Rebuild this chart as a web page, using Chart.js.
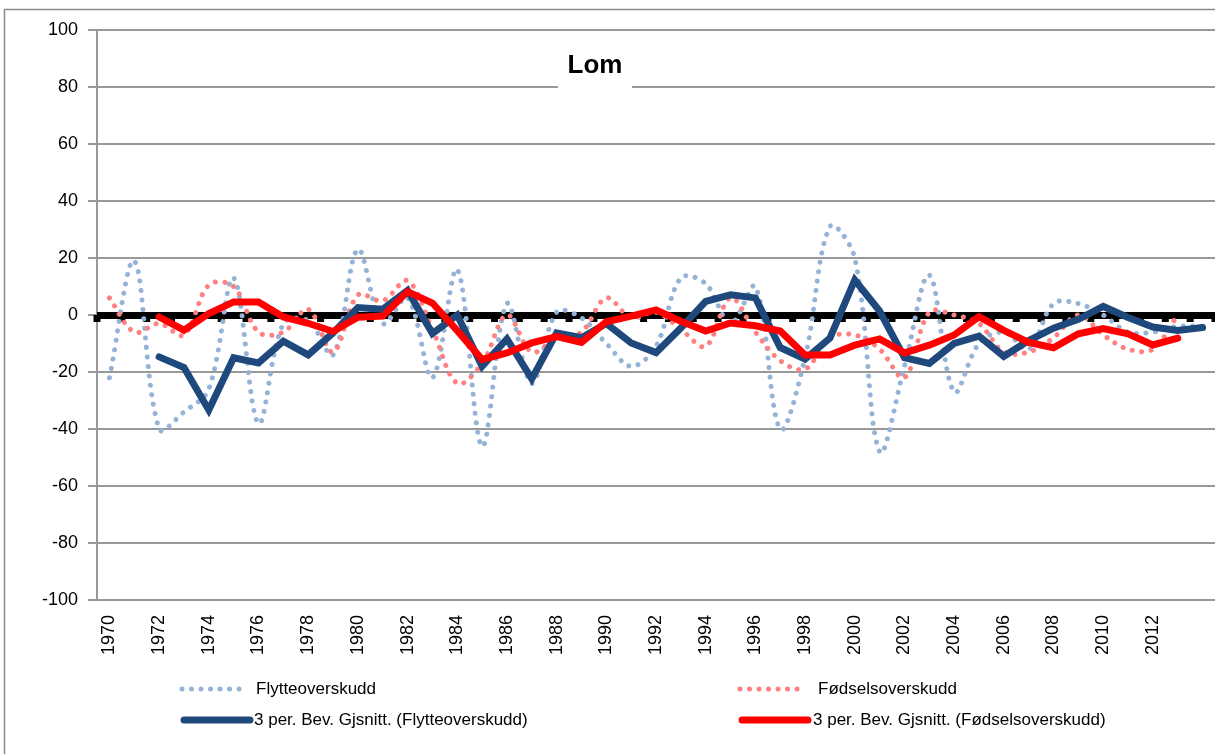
<!DOCTYPE html>
<html>
<head>
<meta charset="utf-8">
<title>Lom</title>
<script src="https://cdn.jsdelivr.net/npm/chart.js@4.4.1/dist/chart.umd.min.js"></script>
<style>
    html, body { margin: 0; padding: 0; background: #fff; }
    #wrap { width: 1215px; height: 754px; position: relative; }
</style>
</head>
<body>
<div id="wrap"><canvas id="lomChart" width="1215" height="754"></canvas></div>
<script>
// Categories (years) and the labels shown on the axis
const years = [
    '1970', '1971', '1972', '1973', '1974', '1975', '1976', '1977', '1978', '1979',
    '1980', '1981', '1982', '1983', '1984', '1985', '1986', '1987', '1988', '1989',
    '1990', '1991', '1992', '1993', '1994', '1995', '1996', '1997', '1998', '1999',
    '2000', '2001', '2002', '2003', '2004', '2005', '2006', '2007', '2008', '2009',
    '2010', '2011', '2012', '2013', '2014'
];
const tickYears = [
    '1970', '1972', '1974', '1976', '1978', '1980', '1982', '1984', '1986', '1988', '1990',
    '1992', '1994', '1996', '1998', '2000', '2002', '2004', '2006', '2008', '2010', '2012'
];
const yTicks = [-100, -80, -60, -40, -20, 0, 20, 40, 60, 80, 100];

// Yearly values
const flytte = [
    -22, 19, -40, -34, -26, 13, -38, -3, -2, -14,
    23, -3, 6, -22, 16, -46, 4, -24, 1, -1,
    -10, -18, -11, 13, 11, -3, 10, -40, -15, 31,
    20, -48, -18, 14, -27, -10, -6, -12, 4, 4,
    0, -6, -6, -4, -4
];
const fodsel = [
    6, -6, -3, -7, 10.5, 10, -6, -6, 2, -13,
    7, 5, 12, -5, -24, -17, 0, -13, -8, -6,
    6, -1, 1, -5, -11, 6, -6, -16, -19, -8,
    -7, -12, -22, 1, 0, -3, -13, -13, -8, 0,
    -7, -12, -12, 0, null
];

// 3 period moving averages
const flytteSnitt = [
    null, null, -14.7, -18.4, -33.3, -15, -16.8, -9.2, -14, -6.3,
    2.6, 2, 8.6, -6.5, 0, -18, -8.4, -22.4, -6.3, -8,
    -3, -9.8, -13.2, -4.6, 4.8, 7.1, 6, -11.4, -15.5, -8.1,
    12.3, 1.4, -15, -17, -10, -7.4, -14.5, -9, -4.6, -1.5,
    3, -0.9, -4.2, -5.4, -4.4
];
const fodselSnitt = [
    null, null, -0.7, -5.3, 0.5, 4.6, 4.6, -0.7, -2.9, -5.8,
    -0.8, -0.4, 8.2, 4.2, -5.5, -15.6, -13.3, -9.8, -7.6, -9.6,
    -2.4, -0.4, 1.8, -2.2, -5.6, -2.8, -3.8, -5.6, -14, -14,
    -10.6, -8.4, -13.3, -10.6, -7, -0.6, -5.4, -9.6, -11.5, -6.6,
    -4.8, -6.6, -10.5, -8.1, null
];

const FONT = "'Liberation Sans', Arial, sans-serif";

// Thick zero axis with tick marks, plus the "Lom" title box
const zeroAxisPlugin = {
    id: 'zeroAxis',
    beforeDatasetsDraw(chart) {
        const { ctx, chartArea, scales } = chart;
        const y0 = scales.y.getPixelForValue(0);
        const xs = scales.x;
        const half = (xs.getPixelForValue(1) - xs.getPixelForValue(0)) / 2;

        ctx.save();
        ctx.fillStyle = '#000';
        ctx.fillRect(chartArea.left, y0 - 3, chartArea.right - chartArea.left, 7);
        for (let i = 0; i <= years.length; i++) {
            const x = xs.getPixelForValue(0) - half + i * half * 2;
            ctx.fillRect(x - 3.5, y0, 7, 7);
        }

        // title
        ctx.fillStyle = '#fff';
        ctx.fillRect(558, 44, 74, 45);
        ctx.fillStyle = '#000';
        ctx.font = 'bold 26px ' + FONT;
        ctx.textAlign = 'center';
        ctx.textBaseline = 'middle';
        ctx.fillText('Lom', 595, 66);
        ctx.restore();
    }
};

// Outer frame and the two column legend at the bottom
const legendPlugin = {
    id: 'bottomLegend',
    afterDraw(chart) {
        const { ctx } = chart;
        ctx.save();
        ctx.strokeStyle = '#8a8a8a';
        ctx.lineWidth = 1.5;
        ctx.strokeRect(4.5, 9.5, 1300, 800);

        const slots = [
            { ds: 3, x: 182, w: 62, y: 689, tx: 256 },
            { ds: 2, x: 740, w: 62, y: 689, tx: 818 },
            { ds: 1, x: 184, w: 66, y: 720, tx: 254 },
            { ds: 0, x: 742, w: 66, y: 720, tx: 813 }
        ];
        slots.forEach(s => {
            const d = chart.data.datasets[s.ds];
            ctx.beginPath();
            ctx.strokeStyle = d.borderColor;
            ctx.lineWidth = d.borderWidth;
            ctx.lineCap = 'round';
            ctx.setLineDash(d.borderDash || []);
            ctx.moveTo(s.x, s.y);
            ctx.lineTo(s.x + s.w, s.y);
            ctx.stroke();
            ctx.setLineDash([]);
            ctx.fillStyle = '#000';
            ctx.font = '17px ' + FONT;
            ctx.textAlign = 'left';
            ctx.textBaseline = 'middle';
            ctx.fillText(d.label, s.tx, s.y);
        });
        ctx.restore();
    }
};

Chart.defaults.font.family = FONT;
Chart.defaults.color = '#000';

new Chart(document.getElementById('lomChart'), {
    type: 'line',
    data: {
        labels: years,
        datasets: [
            {
                label: '3 per. Bev. Gjsnitt. (Fødselsoverskudd)',
                data: fodselSnitt,
                borderColor: '#ff0000',
                borderWidth: 7,
                borderCapStyle: 'round',
                pointRadius: 0,
                tension: 0,
                order: 0
            },
            {
                label: '3 per. Bev. Gjsnitt. (Flytteoverskudd)',
                data: flytteSnitt,
                borderColor: '#1f497d',
                borderWidth: 7,
                borderCapStyle: 'round',
                pointRadius: 0,
                tension: 0,
                order: 1
            },
            {
                label: 'Fødselsoverskudd',
                data: fodsel,
                borderColor: '#ff8080',
                borderWidth: 5,
                borderDash: [0.01, 9.5],
                borderCapStyle: 'round',
                pointRadius: 0,
                tension: 0.35,
                order: 2
            },
            {
                label: 'Flytteoverskudd',
                data: flytte,
                borderColor: '#95b3d7',
                borderWidth: 5,
                borderDash: [0.01, 9.5],
                borderCapStyle: 'round',
                pointRadius: 0,
                tension: 0.35,
                order: 3
            }
        ]
    },
    options: {
        responsive: false,
        animation: false,
        devicePixelRatio: 1,
        layout: { padding: { top: 30, right: 0, bottom: 0, left: 0 } },
        plugins: {
            legend: { display: false },
            tooltip: { enabled: false }
        },
        scales: {
            x: {
                offset: true,
                grid: { display: false, drawTicks: false },
                border: { display: false },
                ticks: {
                    autoSkip: false,
                    minRotation: 90,
                    maxRotation: 90,
                    padding: 15,
                    font: { size: 18 },
                    callback: function (v) {
                        const l = this.getLabelForValue(v);
                        return tickYears.includes(l) ? l : '';
                    }
                },
                afterFit: s => {
                    s.height = 154;
                    s.paddingLeft = 0;
                    s.paddingRight = 0;
                }
            },
            y: {
                min: yTicks[0],
                max: yTicks[yTicks.length - 1],
                afterBuildTicks: s => { s.ticks = yTicks.map(v => ({ value: v })); },
                ticks: { padding: 10, font: { size: 18 } },
                grid: { color: '#999', lineWidth: 2, tickLength: 9 },
                border: { color: '#999', width: 2 },
                afterFit: s => { s.width = 97; }
            }
        }
    },
    plugins: [zeroAxisPlugin, legendPlugin]
});
</script>
</body>
</html>
